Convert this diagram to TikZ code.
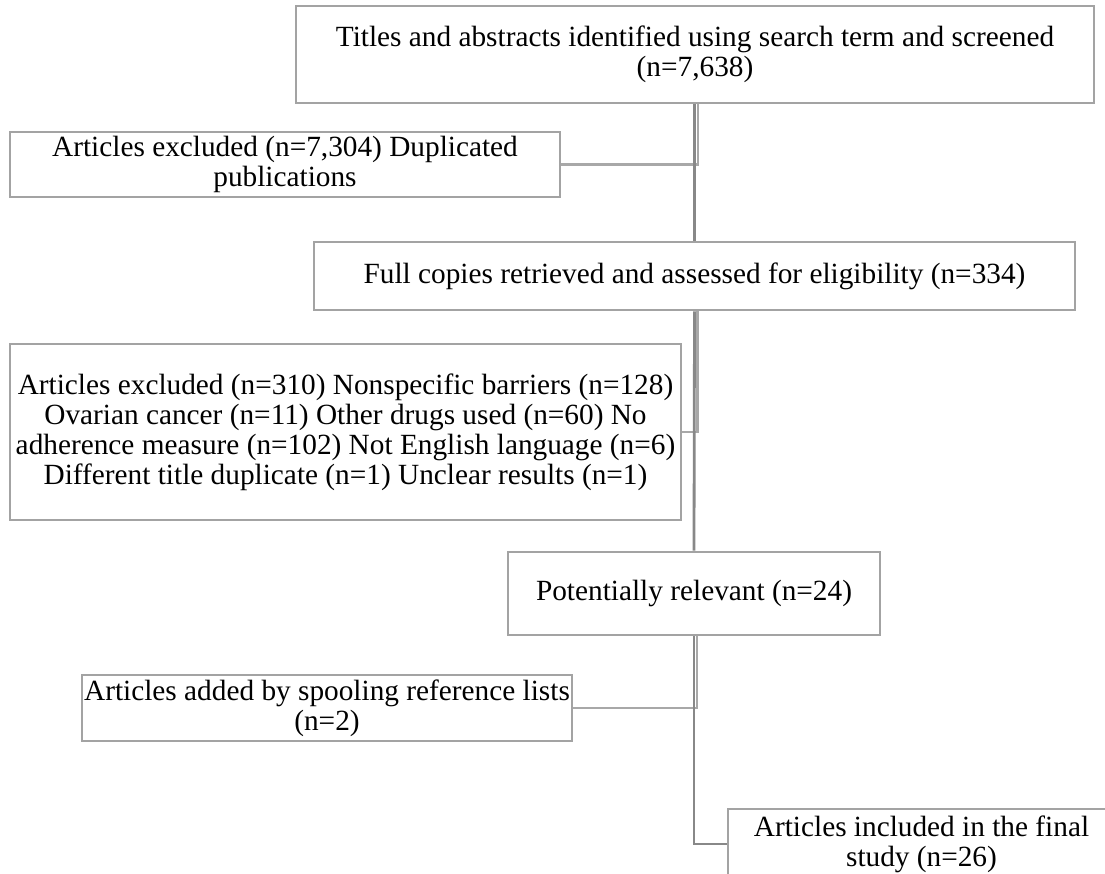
\documentclass[tikz,border=0pt]{standalone}
\usepackage{fontspec}
\setmainfont{Liberation Serif}
\usetikzlibrary{calc}
\definecolor{boxgray}{HTML}{A3A3A3}
\definecolor{linedark}{HTML}{888888}
\definecolor{linelight}{HTML}{A8A8A8}
\begin{document}
\begin{tikzpicture}[x=1pt,y=-1pt,
  stagebox/.style={draw=boxgray, line width=2.8pt, fill=white, inner sep=0pt,
    align=center, font=\fontsize{29.3}{30}\selectfont},
  mainline/.style={draw=linedark, line width=2.8pt},
  sideline/.style={draw=linelight, line width=2.5pt}]
\useasboundingbox (0,0) rectangle (1105,873);

% stages of the selection process
\node[stagebox, minimum width=798pt, minimum height=97pt] (titles) at (695,54.5)
  {Titles and abstracts identified using search term and screened\\(n=7,638)};
\node[stagebox, minimum width=550pt, minimum height=65pt] (dup) at (285,164.5)
  {Articles excluded (n=7,304) Duplicated\\publications};
\node[stagebox, minimum width=761pt, minimum height=68pt] (full) at (694.5,276)
  {Full copies retrieved and assessed for eligibility (n=334)};
\node[stagebox, minimum width=671pt, minimum height=176pt] (excl) at (345.5,432)
  {Articles excluded (n=310) Nonspecific barriers (n=128)\\
   Ovarian cancer (n=11) Other drugs used (n=60) No\\
   adherence measure (n=102) Not English language (n=6)\\
   Different title duplicate (n=1) Unclear results (n=1)};
\node[stagebox, minimum width=372pt, minimum height=83pt] (pot) at (694,593.5)
  {Potentially relevant (n=24)};
\node[stagebox, minimum width=490pt, minimum height=66pt] (added) at (327,708)
  {Articles added by spooling reference lists\\(n=2)};
\node[stagebox, minimum width=387pt, minimum height=70pt] (final) at (921.5,844)
  {Articles included in the final\\study (n=26)};

% connectors: a straight trunk and an elbow branch beside it
\draw[sideline] ($(titles.south)+(3,0)$) |- (dup.east);
\draw[mainline] (titles.south -| full.north) -- (full.north);
\draw[sideline] ($(full.south)+(3,0)$) |- (excl.east);
\draw[mainline] (full.south) -- (pot.north);
\draw[sideline] ($(pot.south)+(3,0)$) |- (added.east);
\draw[mainline] (pot.south) |- (final.west);
\end{tikzpicture}
\end{document}
